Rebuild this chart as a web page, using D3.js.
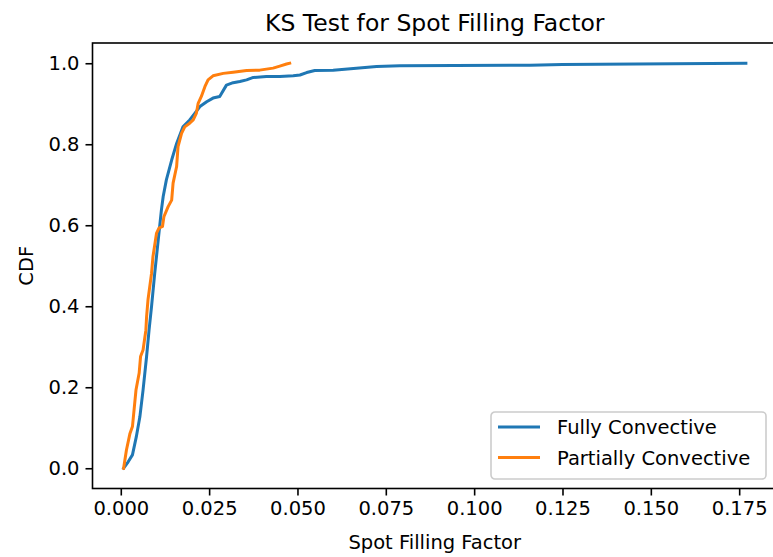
<!DOCTYPE html>
<html>
<head>
<meta charset="utf-8">
<script src="https://cdn.jsdelivr.net/npm/d3@7"></script>
<style>
  body { margin: 0; background: #fff; }
  svg { display: block; }
</style>
</head>
<body>
<div id="chart"></div>
<script>
// CDF points (spot filling factor, cumulative fraction)
const fullyX = [0.0008, 0.0021, 0.0033, 0.0044, 0.0054, 0.0063, 0.0073, 0.0080, 0.0087, 0.0096,
  0.0106, 0.0110, 0.0115, 0.0120, 0.0129, 0.0144, 0.0158, 0.0176, 0.0195, 0.0210, 0.0224,
  0.0243, 0.0261, 0.0280, 0.0299, 0.0318, 0.0337, 0.0356, 0.0375, 0.0412, 0.0450, 0.0488,
  0.0507, 0.0526, 0.0549, 0.0601, 0.0724, 0.0790, 0.1158, 0.1250, 0.1769];
const fullyY = [0.0, 0.016, 0.033, 0.078, 0.127, 0.193, 0.276, 0.341, 0.399, 0.481,
  0.564, 0.597, 0.638, 0.671, 0.712, 0.761, 0.802, 0.843, 0.860, 0.877, 0.893,
  0.905, 0.914, 0.918, 0.946, 0.952, 0.955, 0.959, 0.965, 0.967, 0.967, 0.969,
  0.971, 0.977, 0.982, 0.983, 0.992, 0.994, 0.995, 0.997, 1.0];

const partialX = [0.0008, 0.0016, 0.0026, 0.0033, 0.0043, 0.0052, 0.0056, 0.0063, 0.0071, 0.0073,
  0.0077, 0.0087, 0.0091, 0.0101, 0.0108, 0.0118, 0.0122, 0.0134, 0.0144, 0.0148, 0.0158,
  0.0162, 0.0172, 0.0181, 0.0195, 0.0205, 0.0214, 0.0219, 0.0228, 0.0238, 0.0247, 0.0261,
  0.0290, 0.0318, 0.0356, 0.0393, 0.0431, 0.0450, 0.0469, 0.0478];
const partialY = [0.0, 0.045, 0.086, 0.103, 0.193, 0.235, 0.276, 0.292, 0.341, 0.374,
  0.416, 0.481, 0.522, 0.580, 0.593, 0.597, 0.621, 0.646, 0.662, 0.704, 0.745,
  0.794, 0.827, 0.843, 0.852, 0.860, 0.877, 0.901, 0.918, 0.942, 0.959, 0.969,
  0.975, 0.978, 0.982, 0.983, 0.988, 0.993, 0.998, 1.0];

const seriesNames = ["Fully Convective", "Partially Convective"];
const seriesColors = ["#1f77b4", "#ff7f0e"];
const xTicks = [0.000, 0.025, 0.050, 0.075, 0.100, 0.125, 0.150, 0.175];
const yTicks = [0.0, 0.2, 0.4, 0.6, 0.8, 1.0];

const W = 773, H = 557;
const box = { left: 92.5, right: 777, top: 43, bottom: 488.5 };
const font = "DejaVu Sans";
const fs = 19.5;

const series = [
  fullyX.map((x, i) => ({ x: x, y: fullyY[i] })),
  partialX.map((x, i) => ({ x: x, y: partialY[i] }))
];

const svg = d3.select("#chart").append("svg")
  .attr("width", W).attr("height", H);

// matplotlib style 5% margins
const allX = fullyX.concat(partialX);
const allY = fullyY.concat(partialY);
const xMin = d3.min(allX), xMax = d3.max(allX);
const yMin = d3.min(allY), yMax = d3.max(allY);
const xPad = 0.05 * (xMax - xMin), yPad = 0.05 * (yMax - yMin);

const xScale = d3.scaleLinear()
  .domain([xMin - xPad, xMax + xPad])
  .range([box.left, box.right]);
const yScale = d3.scaleLinear()
  .domain([yMin - yPad, yMax + yPad])
  .range([box.bottom, box.top]);

const line = d3.line().x(d => xScale(d.x)).y(d => yScale(d.y));

svg.selectAll(".cdf")
  .data(series)
  .enter()
  .append("path")
  .attr("class", "cdf")
  .attr("d", d => line(d))
  .attr("fill", "none")
  .attr("stroke", (d, i) => seriesColors[i])
  .attr("stroke-width", 3)
  .attr("stroke-linejoin", "round")
  .attr("stroke-linecap", "square");

// axes
const xAxis = svg.append("g")
  .attr("transform", `translate(0,${box.bottom})`)
  .call(d3.axisBottom(xScale).tickValues(xTicks).tickFormat(d3.format(".3f"))
    .tickSizeInner(7).tickSizeOuter(0).tickPadding(6));
const yAxis = svg.append("g")
  .attr("transform", `translate(${box.left},0)`)
  .call(d3.axisLeft(yScale).tickValues(yTicks).tickFormat(d3.format(".1f"))
    .tickSizeInner(7).tickSizeOuter(0).tickPadding(6));

[xAxis, yAxis].forEach(g => {
  g.select(".domain").remove();
  g.selectAll(".tick line").attr("stroke", "#000").attr("stroke-width", 1.6);
  g.selectAll(".tick text")
    .style("font-family", font)
    .style("font-size", fs + "px")
    .attr("fill", "#000");
});

// frame
svg.append("rect")
  .attr("x", box.left).attr("y", box.top)
  .attr("width", box.right - box.left)
  .attr("height", box.bottom - box.top)
  .attr("fill", "none")
  .attr("stroke", "#000")
  .attr("stroke-width", 1.6);

// title + labels
svg.append("text")
  .attr("x", (box.left + box.right) / 2)
  .attr("y", 31)
  .attr("text-anchor", "middle")
  .style("font-family", font)
  .style("font-size", "23.5px")
  .text("KS Test for Spot Filling Factor");

svg.append("text")
  .attr("x", (box.left + box.right) / 2)
  .attr("y", 549)
  .attr("text-anchor", "middle")
  .style("font-family", font)
  .style("font-size", fs + "px")
  .text("Spot Filling Factor");

svg.append("text")
  .attr("transform", `translate(33,${(box.top + box.bottom) / 2}) rotate(-90)`)
  .attr("text-anchor", "middle")
  .style("font-family", font)
  .style("font-size", fs + "px")
  .text("CDF");

// legend
const legend = svg.append("g").attr("transform", "translate(491,412)");
legend.append("rect")
  .attr("width", 275).attr("height", 67)
  .attr("rx", 4)
  .attr("fill", "#fff").attr("fill-opacity", 0.8)
  .attr("stroke", "#cccccc").attr("stroke-width", 1.6);

const items = legend.selectAll(".item")
  .data(seriesNames)
  .enter()
  .append("g")
  .attr("class", "item")
  .attr("transform", (d, i) => `translate(0,${15 + i * 30.5})`);
items.append("line")
  .attr("x1", 7).attr("x2", 49)
  .attr("stroke", (d, i) => seriesColors[i])
  .attr("stroke-width", 3);
items.append("text")
  .attr("x", 66).attr("y", 7)
  .style("font-family", font)
  .style("font-size", fs + "px")
  .text(d => d);
</script>
</body>
</html>
